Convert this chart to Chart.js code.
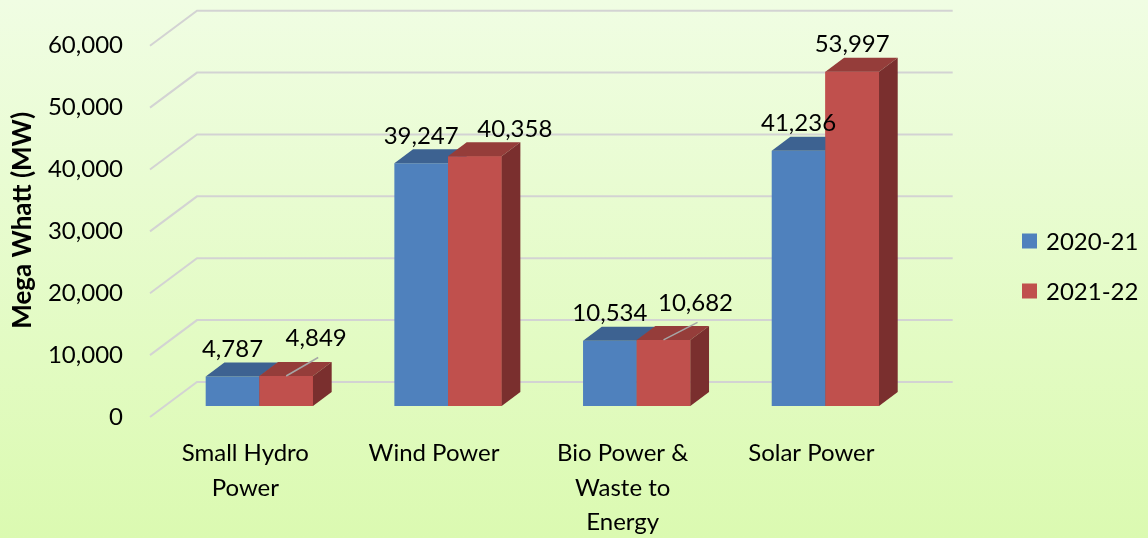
<!DOCTYPE html>
<html><head><meta charset="utf-8">
<script src="https://cdn.jsdelivr.net/npm/chart.js@4.4.1/dist/chart.umd.min.js"></script>
<style>html,body{margin:0;padding:0;background:#fff}#wrap{width:1148px;height:538px;position:relative}canvas{display:block}</style>
</head><body><div id="wrap"><canvas id="c" width="1148" height="538"></canvas></div>
<script>
// ---- data ----
const categories = [['Small Hydro','Power'], ['Wind Power'], ['Bio Power &','Waste to','Energy'], ['Solar Power']];
const seriesNames = ['2020-21', '2021-22'];
const values2020 = [4787, 39247, 10534, 41236];
const values2021 = [4849, 40358, 10682, 53997];
const yTickValues = [0, 10000, 20000, 30000, 40000, 50000, 60000];
const yTitle = 'Mega Whatt (MW)';

// ---- style ----
const FONT = 'Lato, "Open Sans", sans-serif';
const DEPTH = {dx: 18.7, dy: -14};
const WALL = {frontX: -15, frontY: 11, backX: 32, backY: -24};
const FACE = [
  {front: '#4F81BD', top: '#3D6291', side: '#34557D'},
  {front: '#C0504D', top: '#953D3A', side: '#7A2F2E'}
];
const NUDGE = {'1-0': {dx: 30, dy: -10, leader: true}, '1-1': {dx: 40, dy: 0}, '1-2': {dx: 32, dy: -9, leader: true}};
const fmt = v => v.toLocaleString('en-US');

function drawFaces(ctx, el, f) {
  const {dx, dy} = DEPTH;
  const x0 = el.x - el.width / 2, x1 = el.x + el.width / 2, yt = el.y, yb = el.base;
  ctx.fillStyle = f.top;
  ctx.beginPath();
  ctx.moveTo(x0, yt); ctx.lineTo(x1, yt); ctx.lineTo(x1 + dx, yt + dy); ctx.lineTo(x0 + dx, yt + dy);
  ctx.closePath(); ctx.fill();
  ctx.fillStyle = f.side;
  ctx.beginPath();
  ctx.moveTo(x1, yt); ctx.lineTo(x1 + dx, yt + dy); ctx.lineTo(x1 + dx, yb + dy); ctx.lineTo(x1, yb);
  ctx.closePath(); ctx.fill();
}

const bar3d = {
  id: 'bar3d',
  beforeDraw(chart) {
    const {ctx, width, height} = chart;
    const g = ctx.createLinearGradient(0, 0, 0, height);
    g.addColorStop(0, '#F0FDE3');
    g.addColorStop(1, '#DBFAB1');
    ctx.save(); ctx.fillStyle = g; ctx.fillRect(0, 0, width, height); ctx.restore();
  },
  beforeDatasetsDraw(chart) {
    const {ctx, chartArea} = chart;
    const ys = chart.scales.y;
    ctx.save();
    ctx.strokeStyle = '#D3D3D3'; ctx.lineWidth = 2;
    ys.ticks.forEach(t => {
      const yb = ys.getPixelForValue(t.value);
      ctx.beginPath();
      ctx.moveTo(chartArea.left + WALL.frontX, yb + WALL.frontY);
      ctx.lineTo(chartArea.left + WALL.backX, yb + WALL.backY);
      ctx.lineTo(chartArea.right + WALL.backX + 1, yb + WALL.backY);
      ctx.stroke();
    });
    ctx.restore();
  },
  afterDatasetsDraw(chart) {
    const {ctx} = chart;
    ctx.save();
    chart.data.datasets.forEach((ds, di) => {
      const meta = chart.getDatasetMeta(di);
      meta.data.forEach(el => {
        if (di > 0) el.draw(ctx);
        drawFaces(ctx, el, FACE[di]);
      });
    });
    ctx.font = '24px ' + FONT;
    ctx.fillStyle = '#000';
    ctx.textAlign = 'center';
    ctx.textBaseline = 'alphabetic';
    chart.data.datasets.forEach((ds, di) => {
      const meta = chart.getDatasetMeta(di);
      meta.data.forEach((el, i) => {
        const n = NUDGE[di + '-' + i] || {dx: 0, dy: 0};
        const lx = el.x + n.dx;
        const ly = el.y + DEPTH.dy - 5.5 + n.dy;
        if (n.leader) {
          ctx.save();
          ctx.strokeStyle = '#A6A6A6'; ctx.lineWidth = 1.5;
          ctx.beginPath(); ctx.moveTo(el.x, el.y); ctx.lineTo(lx + 2, ly + 11); ctx.stroke();
          ctx.restore();
        }
        ctx.fillStyle = '#000';
        ctx.fillText(fmt(ds.data[i]), lx, ly);
      });
    });
    ctx.textAlign = 'left';
    ctx.textBaseline = 'middle';
    chart.data.datasets.forEach((ds, di) => {
      const cy = 241 + di * 50;
      ctx.fillStyle = ds.backgroundColor;
      ctx.fillRect(1022, cy - 7.5, 15, 15);
      ctx.fillStyle = '#000';
      ctx.fillText(ds.label, 1046, cy + 1);
    });
    ctx.restore();
  }
};

new Chart(document.getElementById('c'), {
  type: 'bar',
  data: {
    labels: categories,
    datasets: [
      {label: seriesNames[0], data: values2020, backgroundColor: FACE[0].front},
      {label: seriesNames[1], data: values2021, backgroundColor: FACE[1].front}
    ]
  },
  options: {
    responsive: false,
    animation: false,
    devicePixelRatio: 1,
    layout: {autoPadding: false, padding: {top: 34.7, right: 228.3, left: 0, bottom: 0}},
    datasets: {bar: {categoryPercentage: 0.5687, barPercentage: 1, borderWidth: 0}},
    plugins: {legend: {display: false}, tooltip: {enabled: false}},
    scales: {
      x: {
        grid: {display: false, drawTicks: false},
        border: {display: false},
        ticks: {color: '#000', font: {family: FONT, size: 24, lineHeight: 1.44}, padding: 30, labelOffset: -14, maxRotation: 0, autoSkip: false},
        afterFit: s => { s.height = 132; s.paddingLeft = 0; s.paddingRight = 0; }
      },
      y: {
        min: 0, max: 60000,
        afterBuildTicks: s => { s.ticks = yTickValues.map(v => ({value: v})); },
        grid: {display: false, drawTicks: false},
        border: {display: false},
        ticks: {color: '#000', font: {family: FONT, size: 24}, padding: 42, labelOffset: 11, callback: v => fmt(v)},
        title: {display: true, text: yTitle, color: '#000', font: {family: FONT, size: 26, weight: 'bold'}, padding: {top: 7}},
        afterFit: s => { s.width = 165; s.paddingTop = 0; s.paddingBottom = 0; }
      }
    }
  },
  plugins: [bar3d]
});
</script>
</body></html>
